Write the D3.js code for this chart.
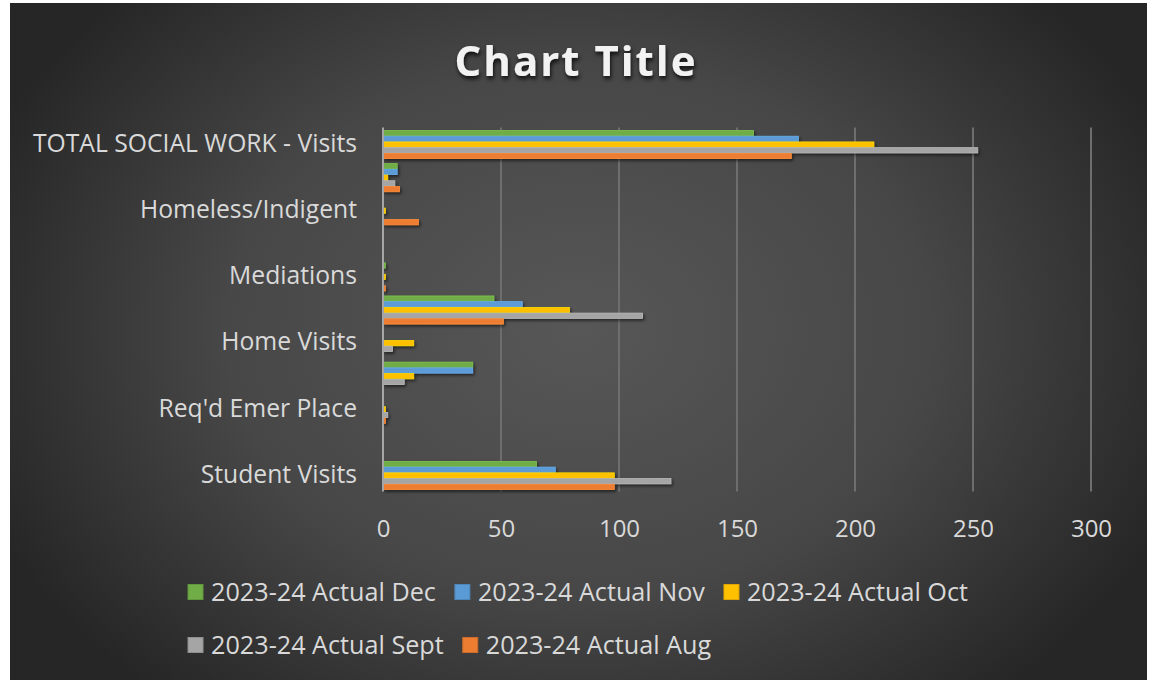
<!DOCTYPE html>
<html>
<head>
<meta charset="utf-8">
<script src="https://cdn.jsdelivr.net/npm/d3@7/dist/d3.min.js"></script>
<style>
  html, body { margin: 0; padding: 0; background: #ffffff; }
  svg { display: block; font-family: "Open Sans", "Noto Sans", sans-serif; }
</style>
</head>
<body>
<svg id="chart" width="1153" height="682"></svg>
<script>
// Categories, top to bottom as drawn
const categories = [
  "TOTAL SOCIAL WORK - Visits",
  "Other Contacts",
  "Homeless/Indigent",
  "Truancy Referrals",
  "Mediations",
  "Parent Contacts",
  "Home Visits",
  "Staff Consultations",
  "Req'd Emer Place",
  "Court Appearances",
  "Student Visits"
];
// Which category labels are shown on the axis
const labelledCategories = [
  "TOTAL SOCIAL WORK - Visits", "Homeless/Indigent", "Mediations",
  "Home Visits", "Req'd Emer Place", "Student Visits"
];

const seriesNames = [
  "2023-24 Actual Dec",
  "2023-24 Actual Nov",
  "2023-24 Actual Oct",
  "2023-24 Actual Sept",
  "2023-24 Actual Aug"
];
const seriesColors = ["#70AD47", "#5B9BD5", "#FFC000", "#A5A5A5", "#ED7D31"];

// Values per series, in category order above
const actualDec  = [157, 6, 0, 0, 1, 47, 0, 38, 0, 0, 65];
const actualNov  = [176, 6, 0, 0, 0, 59, 0, 38, 0, 0, 73];
const actualOct  = [208, 2, 1, 0, 1, 79, 13, 13, 1, 0, 98];
const actualSept = [252, 5, 0, 0, 0, 110, 4, 9, 2, 0, 122];
const actualAug  = [173, 7, 15, 0, 1, 51, 0, 0, 1, 0, 98];
const seriesValues = [actualDec, actualNov, actualOct, actualSept, actualAug];

const xTicks = [0, 50, 100, 150, 200, 250, 300];

// ---------------------------------------------------------------
const svg = d3.select("#chart");
const W = 1153, H = 682;
const frame = { x: 10, y: 3, w: 1137, h: 677 };
const plot = { left: 383, right: 1091, top: 127.5, bottom: 491.5 };

const defs = svg.append("defs");
const bg = defs.append("radialGradient")
  .attr("id", "bgGrad")
  .attr("gradientUnits", "userSpaceOnUse")
  .attr("cx", 578).attr("cy", 330).attr("r", 640)
  .attr("gradientTransform", "translate(578,330) scale(1,0.75) translate(-578,-330)");
bg.append("stop").attr("offset", "0%").attr("stop-color", "#575757");
bg.append("stop").attr("offset", "55%").attr("stop-color", "#474747");
bg.append("stop").attr("offset", "100%").attr("stop-color", "#262626");

const shadow = defs.append("filter").attr("id", "barShadow")
  .attr("x", "-10%").attr("y", "-50%").attr("width", "130%").attr("height", "250%");
shadow.append("feDropShadow").attr("dx", 1.5).attr("dy", 2).attr("stdDeviation", 1.5)
  .attr("flood-color", "#000").attr("flood-opacity", 0.55);

const titleShadow = defs.append("filter").attr("id", "titleShadow")
  .attr("x", "-10%").attr("y", "-30%").attr("width", "120%").attr("height", "160%");
titleShadow.append("feDropShadow").attr("dx", 1).attr("dy", 3).attr("stdDeviation", 2)
  .attr("flood-color", "#000").attr("flood-opacity", 0.8);

svg.append("rect").attr("width", W).attr("height", H).attr("fill", "#ffffff");
svg.append("rect")
  .attr("x", frame.x).attr("y", frame.y).attr("width", frame.w).attr("height", frame.h)
  .attr("fill", "url(#bgGrad)");

// Title
svg.append("text")
  .attr("x", 576).attr("y", 76)
  .attr("text-anchor", "middle")
  .attr("font-size", 42).attr("font-weight", 700)
  .attr("letter-spacing", 2)
  .attr("fill", "#f2f2f2")
  .attr("filter", "url(#titleShadow)")
  .text("Chart Title");

// Scales
const x = d3.scaleLinear().domain([0, 300]).range([plot.left, plot.right]);
const y0 = d3.scaleBand().domain(categories).range([plot.top, plot.bottom]).padding(0);
const y1 = d3.scaleBand().domain(seriesNames).range([3, y0.bandwidth() - 1.5]).padding(0);

// Vertical gridlines
svg.append("g")
  .selectAll("line")
  .data(xTicks.filter(d => d > 0))
  .join("line")
  .attr("x1", d => x(d)).attr("x2", d => x(d))
  .attr("y1", plot.top).attr("y2", plot.bottom)
  .attr("stroke", "#6e6e6e").attr("stroke-width", 2);

// Bars
const barLayer = svg.append("g");
seriesNames.forEach((name, si) => {
  const color = seriesColors[si];
  barLayer.append("g")
    .attr("filter", "url(#barShadow)")
    .selectAll("rect")
    .data(categories.map((c, ci) => ({ cat: c, value: seriesValues[si][ci] })).filter(d => d.value > 0))
    .join("rect")
    .attr("x", x(0))
    .attr("y", d => y0(d.cat) + y1(name))
    .attr("width", d => x(d.value) - x(0))
    .attr("height", y1.bandwidth() - 0.5)
    .attr("fill", color)
    .attr("stroke", d3.color(color).brighter(0.35))
    .attr("stroke-width", 0.8);
});

// Category axis line
svg.append("line")
  .attr("x1", x(0)).attr("x2", x(0))
  .attr("y1", plot.top).attr("y2", plot.bottom)
  .attr("stroke", "#a6a6a6").attr("stroke-width", 2);

// Value axis labels
const xAxis = d3.axisBottom(x).tickValues(xTicks).tickSize(0).tickPadding(0);
const xg = svg.append("g").attr("transform", `translate(0,${plot.bottom})`).call(xAxis);
xg.select(".domain").remove();
xg.selectAll("text")
  .attr("y", 45).attr("dy", 0)
  .attr("font-size", 24)
  .attr("font-family", "'Open Sans', sans-serif")
  .attr("fill", "#d9d9d9");

// Category labels
const yAxis = d3.axisLeft(y0).tickValues(labelledCategories).tickSize(0).tickPadding(26);
const yg = svg.append("g").attr("transform", `translate(${x(0)},0)`).call(yAxis);
yg.select(".domain").remove();
yg.selectAll("text")
  .attr("font-size", 24.7)
  .attr("font-family", "'Open Sans', sans-serif")
  .attr("fill", "#d9d9d9");

// Legend: flowing rows, left aligned, block centred
const legendRows = [seriesNames.slice(0, 3), seriesNames.slice(3)];
const legendRowY = [592, 645];
const keySize = 15, keyGap = 8, itemGap = 19;
const legend = svg.append("g");
const rowsLaidOut = legendRows.map((row, ri) => {
  const g = legend.append("g");
  let cx = 0;
  row.forEach(name => {
    const si = seriesNames.indexOf(name);
    const item = g.append("g").attr("transform", `translate(${cx},0)`);
    item.append("rect")
      .attr("x", 0).attr("y", legendRowY[ri] - keySize / 2)
      .attr("width", keySize).attr("height", keySize)
      .attr("fill", seriesColors[si])
      .attr("stroke", d3.color(seriesColors[si]).darker(0.4)).attr("stroke-width", 1);
    const t = item.append("text")
      .attr("x", keySize + keyGap).attr("y", legendRowY[ri])
      .attr("dy", "0.35em")
      .attr("font-size", 25.2)
      .attr("fill", "#d9d9d9")
      .text(name);
    cx += keySize + keyGap + t.node().getComputedTextLength() + itemGap;
  });
  return { g, width: cx - itemGap };
});
const legendWidth = d3.max(rowsLaidOut, r => r.width);
const legendLeft = 578 - legendWidth / 2;
rowsLaidOut.forEach(r => r.g.attr("transform", `translate(${legendLeft},0)`));
</script>
</body>
</html>
